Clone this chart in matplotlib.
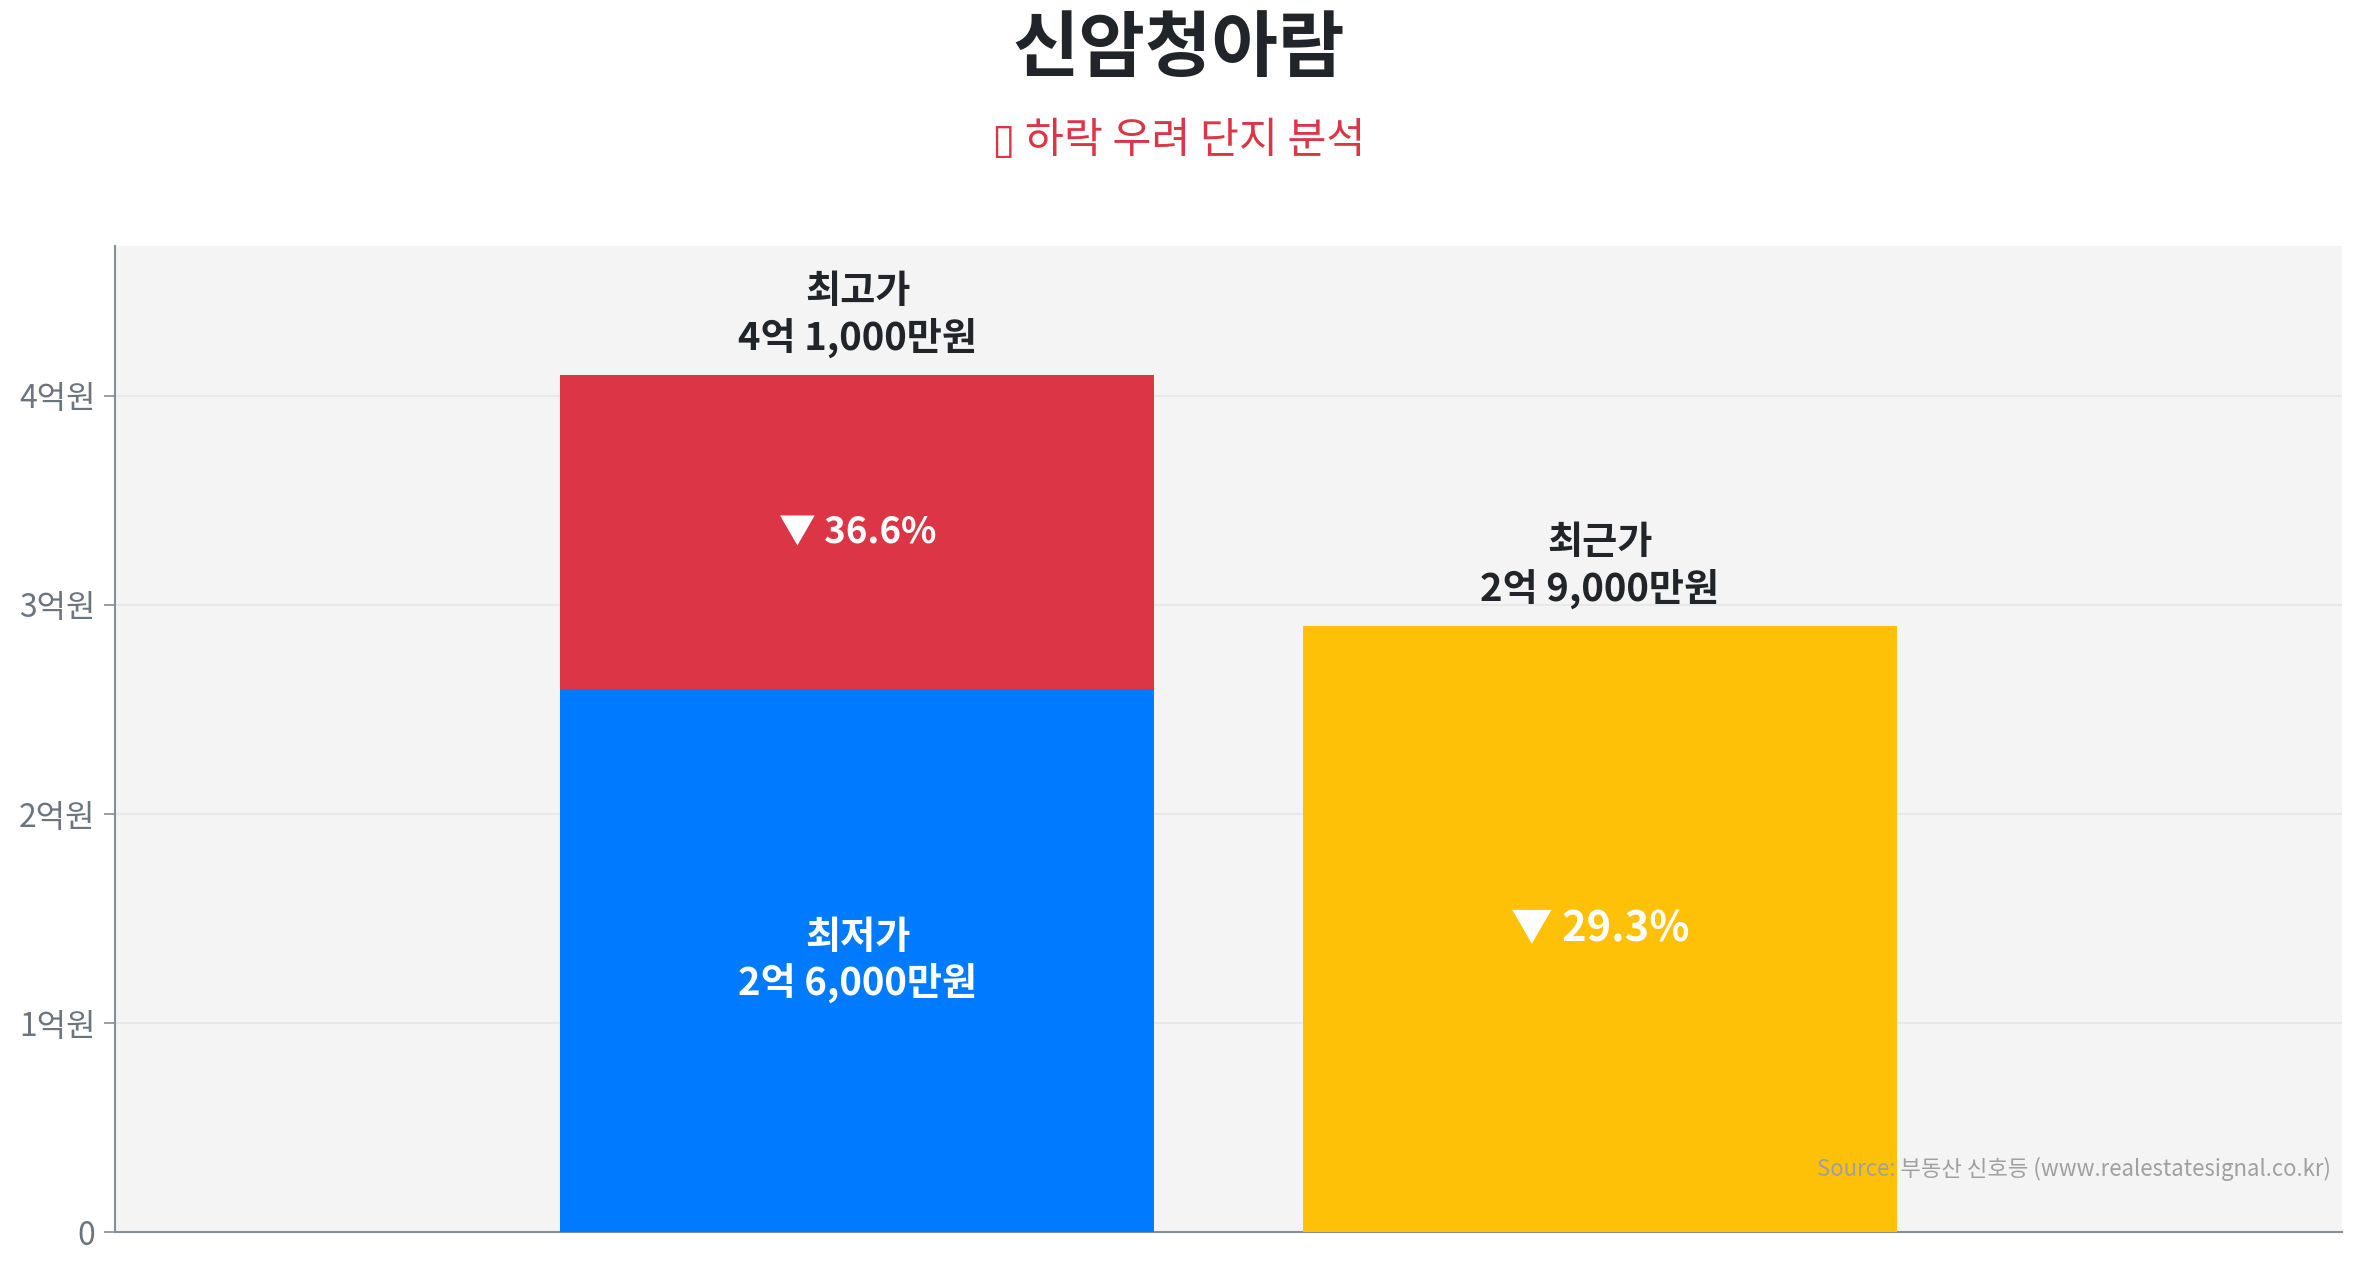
"""
신암청아람 price drop chart: 최고가 / 최저가 / 최근가 comparison.

Saves the figure to out.png.
"""

import matplotlib.pyplot as plt
from matplotlib.ticker import FuncFormatter

plt.rcParams["font.family"] = ["Noto Sans CJK KR", "DejaVu Sans"]

# values in 억원
low_price = [2.6]
high_price = [4.1]
recent_price = [2.9]
high_drop_pct = 36.6
recent_drop_pct = 29.3
positions = [0, 1]

TITLE = "신암청아람"
# the chart emoji (📉) has no installed glyph; the reference shows it as an empty box
SUBTITLE = "\u25af 하락 우려 단지 분석"
SOURCE = "Source: 부동산 신호등 (www.realestatesignal.co.kr)"

RED = "#dc3545"
BLUE = "#007bff"
YELLOW = "#ffc107"
DARK = "#212529"
GRAY = "#6c757d"


def won_label(v):
    eok = int(v)
    man = int(round((v - eok) * 10000))
    return f"{eok}억 {man:,}만원"


def main() -> None:
    fig = plt.figure(figsize=(23.57, 12.68), dpi=100)
    ax = fig.add_axes([0.0488, 0.028, 0.945, 0.778])
    ax.set_facecolor("#f4f4f4")

    # stacked high-price bar: low part + drop part
    ax.bar(positions[0], low_price[0], width=0.8, color=BLUE, zorder=3)
    ax.bar(positions[0], high_price[0] - low_price[0], bottom=low_price[0],
           width=0.8, color=RED, zorder=3)
    ax.bar(positions[1], recent_price[0], width=0.8, color=YELLOW, zorder=3)

    ax.set_xlim(-1, 2)
    ax.set_ylim(0, high_price[0] * 1.15)
    ax.set_yticks([0, 1, 2, 3, 4])
    ax.yaxis.set_major_formatter(FuncFormatter(lambda v, _: "0" if v == 0 else f"{int(v)}억원"))
    ax.set_xticks([])
    ax.grid(axis="y", color="#e6e6e6", linewidth=1.2, zorder=0)
    ax.tick_params(axis="y", colors="#868e96", labelcolor=GRAY, labelsize=23,
                   length=8, width=1.2, pad=6)
    for side in ("top", "right"):
        ax.spines[side].set_visible(False)
    for side in ("left", "bottom"):
        ax.spines[side].set_color("#868e96")
        ax.spines[side].set_linewidth(1.5)

    # labels above bars
    ax.annotate(f"최고가\n{won_label(high_price[0])}", (positions[0], high_price[0]),
                xytext=(0, 12), textcoords="offset points", ha="center", va="bottom",
                fontsize=27.5, fontweight="bold", color=DARK, linespacing=1.2)
    ax.annotate(f"최근가\n{won_label(recent_price[0])}", (positions[1], recent_price[0]),
                xytext=(0, 12), textcoords="offset points", ha="center", va="bottom",
                fontsize=27.5, fontweight="bold", color=DARK, linespacing=1.2)

    # labels inside bars
    ax.text(positions[0], (low_price[0] + high_price[0]) / 2, f"▼ {high_drop_pct}%",
            ha="center", va="center", fontsize=26.5, fontweight="bold", color="white")
    ax.text(positions[0], low_price[0] / 2, f"최저가\n{won_label(low_price[0])}",
            ha="center", va="center", fontsize=27.5, fontweight="bold", color="white",
            linespacing=1.2)
    ax.text(positions[1], recent_price[0] / 2, f"▼ {recent_drop_pct}%",
            ha="center", va="center", fontsize=30, fontweight="bold", color="white")

    ax.text(0.995, 0.064, SOURCE, transform=ax.transAxes, ha="right", va="center",
            fontsize=16, color="#a0a0a0", zorder=4)

    fig.text(0.5, 0.961, TITLE, ha="center", va="center", fontsize=52,
             fontweight="bold", color=DARK)
    fig.text(0.5, 0.889, SUBTITLE, ha="center", va="center", fontsize=30.5, color=RED)

    fig.savefig("out.png", dpi=100)
    plt.close(fig)


if __name__ == "__main__":
    main()
